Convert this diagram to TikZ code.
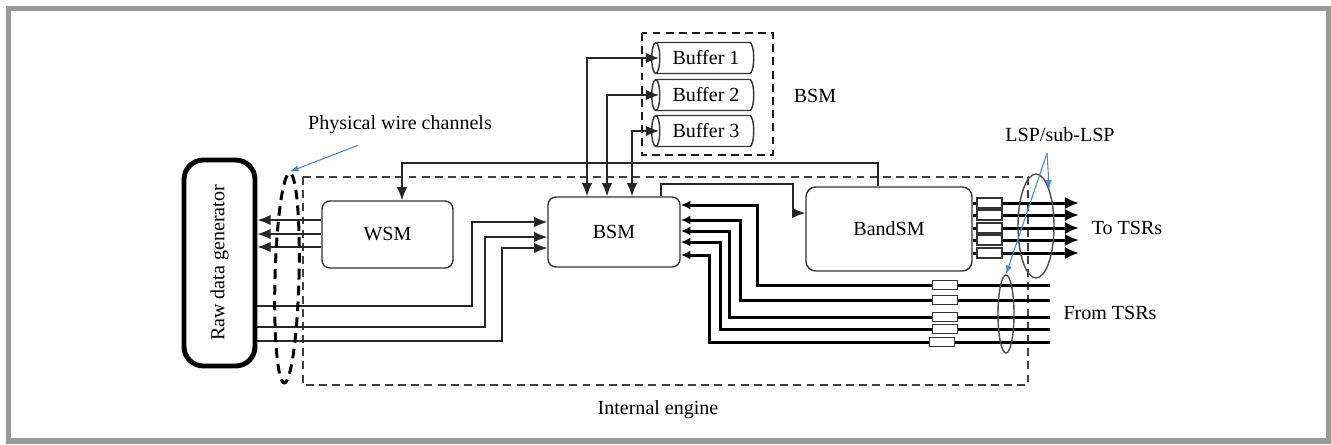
\documentclass[tikz,border=0pt]{standalone}
\usepackage{fontspec}
\setmainfont{Liberation Serif}
\usetikzlibrary{shapes.geometric,arrows.meta}

\definecolor{framegray}{RGB}{153,153,153}
\definecolor{calloutblue}{RGB}{74,134,200}

\tikzset{
    blk/.style={draw=black!80, line width=0.8pt, rounded corners=4.5pt},
    gen/.style={draw=black, line width=2.8pt, rounded corners=11pt,
        minimum width=1.42cm, minimum height=4.12cm},
    buf/.style={cylinder, shape border rotate=180, aspect=0.45, draw=black!80,
        line width=0.8pt, minimum height=2.04cm, minimum width=0.62cm, inner sep=1pt},
    res/.style={draw=black!80, fill=white, line width=0.6pt, inner sep=0pt,
        minimum width=0.5cm, minimum height=0.2cm},
    ring/.style={ellipse, draw=black!70, line width=0.8pt, inner sep=0pt},
    wire/.style={draw=black!85, line width=0.8pt, >={Latex[length=7.5pt,width=6pt]}},
    busout/.style={draw=black, line width=1.7pt, >={Latex[length=8pt,width=7pt]}},
    busin/.style={draw=black, line width=1.7pt, >={Latex[length=5.5pt,width=5pt]}},
    callout/.style={draw=calloutblue, line width=0.6pt, >={Latex[length=5pt,width=3.5pt]}},
    grp/.style={draw=black!75, line width=0.7pt, dash pattern=on 4.5pt off 3pt},
}

\begin{document}
\begin{tikzpicture}[x=0.02cm, y=-0.02cm, font=\fontsize{11.4}{13.5}\selectfont]

    \useasboundingbox (0,0) rectangle (1331,444);
    \draw[framegray, line width=3.1pt] (8.5,8.5) rectangle (1328.5,441);

    \draw[grp] (303,177) rectangle (1028,385);
    \node (engine) at (658,410) {Internal engine};

    \draw[grp, draw=black!90] (642,33) rectangle (773,155);
    \node (bsmlbl) at (815,96) {BSM};

    \node[gen] (raw) at (219.5,263) {\rotatebox{90}{Raw data generator}};
    \node[blk, minimum width=2.62cm, minimum height=1.34cm] (wsm) at (387.5,234.5) {WSM};
    \node[blk, minimum width=2.64cm, minimum height=1.40cm] (bsm) at (614,232) {BSM};
    \node[blk, rounded corners=5.5pt, minimum width=3.32cm, minimum height=1.68cm] (band) at (889,229) {BandSM};

    \foreach \i/\y in {1/58,2/95,3/131}
        \node[buf] (buf\i) at (706,\y) {Buffer \i};

    \foreach \i/\dx in {1/-0.54,2/-0.14,3/0.36}
        \draw[wire,<->] ([xshift=\dx cm]bsm.north) |- ([xshift=0.16cm]buf\i.west);

    \foreach \y in {220,234,247}
        \draw[wire,->] (wsm.west |- 0,\y) -- (raw.east |- 0,\y);

    \foreach \y/\x/\t in {306/472/222, 327/485/237, 341/502/248}
        \draw[wire,->] (raw.east |- 0,\y) -| (\x,\t) -- (bsm.west |- 0,\t);

    \draw[wire,->] ([xshift=-0.22cm]band.north) |- (402,163) -- (wsm.north -| 402,0);
    \draw[wire,->] ([xshift=0.94cm]bsm.north) |- (793,184) |- (band.west |- 0,213);

    \foreach \y [count=\i] in {203,215,228,240,253} {
        \coordinate (to\i) at (1079,\y);
        \draw[busout,->] (band.east |- to\i) -- (to\i);
        \node[res] (rt\i) at (989.5,\y) {};
    }

    \foreach \y/\x/\t/\r [count=\i] in {285/757/205/945, 300/740/220/945, 317/729/231/945, 329/720/242/945, 342/709/255/942} {
        \coordinate (from\i) at (1050,\y);
        \draw[busin,->] (from\i) -| (\x,\t) -- (bsm.east |- 0,\t);
        \node[res, minimum height=0.18cm] (rf\i) at (\r,\y) {};
    }

    \node (totsr) at (1127,228) {To TSRs};
    \node (fromtsr) at (1110,313) {From TSRs};

    \node[ring, minimum width=0.72cm, minimum height=2.08cm] (lspout) at (1036,226) {};
    \node[ring, minimum width=0.32cm, minimum height=1.56cm] (lspin) at (1006,314) {};
    \node[ellipse, draw=black, line width=1.7pt, dash pattern=on 5.5pt off 3.5pt,
        minimum width=0.48cm, minimum height=4.2cm, inner sep=0pt, rotate=-1.5] (pwc) at (287,278) {};

    \node (phys) at (400,125) {Physical wire channels};
    \draw[callout,->] ([xshift=-0.84cm,yshift=-0.1cm]phys.south) -- (pwc.north);

    \node (lsp) at (1060,135) {LSP/sub-LSP};
    \draw[callout,->] ([xshift=-0.26cm,yshift=-0.1cm]lsp.south) -- (lspout.north east);
    \draw[callout,->] ([xshift=-0.26cm,yshift=-0.1cm]lsp.south) -- (lspin.north);

\end{tikzpicture}
\end{document}
